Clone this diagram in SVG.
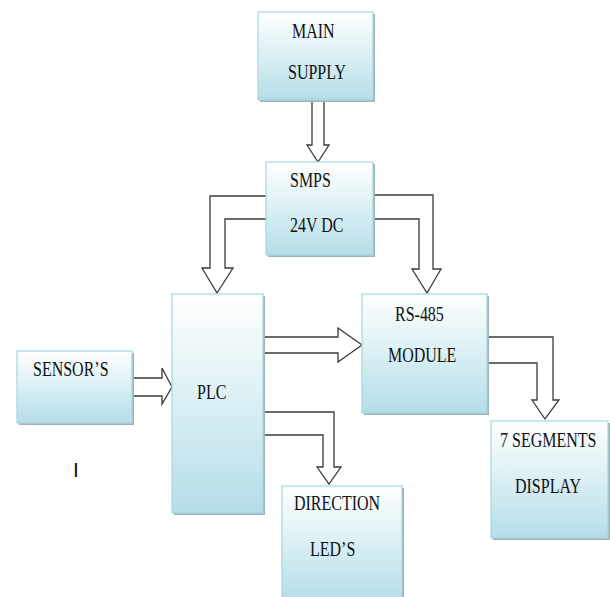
<svg xmlns="http://www.w3.org/2000/svg" width="610" height="597" viewBox="0 0 610 597">
<defs>
<linearGradient id="g" x1="0" y1="0" x2="0" y2="1">
<stop offset="0" stop-color="#ffffff"/>
<stop offset="0.55" stop-color="#d6eef3"/>
<stop offset="1" stop-color="#b5dde7"/>
</linearGradient>
<style>
.box{fill:url(#g);stroke:#a6d6e2;stroke-width:1.2}
.sh{fill:#9fb3b8}
.ar{fill:#ffffff;stroke:#3a3a3a;stroke-width:1.3;stroke-linejoin:miter}
text{font-family:"Liberation Serif","Times New Roman",serif;font-size:16px;fill:#111}
</style>
</defs>
<rect width="610" height="597" fill="#ffffff"/>
<g id="connectors">
<path class="ar" d="M312,101 L324,101 L324,145 L329,145 L318,162 L307,145 L312,145 Z"/>
<path class="ar" d="M266,196 L210,196 L210,268 L202,268 L217,293 L233,268 L225,268 L225,219 L266,219"/>
<path class="ar" d="M373,195 L433,195 L433,269 L441,269 L427,293 L412,269 L419,269 L419,219 L373,219"/>
<path class="ar" d="M132,378 L162,378 L162,368 L172,387 L162,404 L162,396 L132,396"/>
<path class="ar" d="M263,337 L338,337 L338,328 L362,345 L338,362 L338,353 L263,353 Z"/>
<path class="ar" d="M263,412 L334,412 L334,467 L341,467 L329,484 L317,467 L323,467 L323,435 L263,435"/>
<path class="ar" d="M487,337 L553,337 L553,400 L559,400 L545,419 L532,400 L537,400 L537,363 L487,363"/>
</g>
<g id="main-supply">
<rect class="sh" x="260" y="14" width="115" height="88"/>
<rect class="box" x="258" y="12" width="115" height="88"/>
<text transform="translate(292,38) scale(1,1.33)">MAIN</text>
<text transform="translate(288,79) scale(1,1.33)">SUPPLY</text>
</g>
<g id="smps">
<rect class="sh" x="268" y="164" width="107" height="93"/>
<rect class="box" x="266" y="162" width="107" height="93"/>
<text transform="translate(290,187) scale(1,1.33)">SMPS</text>
<text transform="translate(290,232) scale(1,1.33)">24V DC</text>
</g>
<g id="plc">
<rect class="sh" x="174" y="296" width="91" height="219"/>
<rect class="box" x="172" y="294" width="91" height="219"/>
<text transform="translate(197,399) scale(1,1.33)">PLC</text>
</g>
<g id="sensors">
<rect class="sh" x="19" y="353" width="115" height="72"/>
<rect class="box" x="17" y="351" width="115" height="72"/>
<text transform="translate(33,376) scale(1,1.33)">SENSOR’S</text>
</g>
<g id="rs485">
<rect class="sh" x="364" y="296" width="125" height="119"/>
<rect class="box" x="362" y="294" width="125" height="119"/>
<text transform="translate(395,321) scale(1,1.33)">RS-485</text>
<text transform="translate(388,362) scale(1,1.33)">MODULE</text>
</g>
<g id="seven-seg">
<rect class="sh" x="493" y="423" width="117" height="117"/>
<rect class="box" x="491" y="421" width="117" height="117"/>
<text transform="translate(500,447) scale(1,1.33)">7 SEGMENTS</text>
<text transform="translate(515,493) scale(1,1.33)">DISPLAY</text>
</g>
<g id="direction-leds">
<rect class="sh" x="284" y="488" width="120" height="115"/>
<rect class="box" x="282" y="486" width="120" height="115"/>
<text transform="translate(294,510) scale(1,1.33)">DIRECTION</text>
<text transform="translate(310,556) scale(1,1.33)">LED’S</text>
</g>
<text x="73" y="477" style="font-family:'Liberation Sans',Arial,sans-serif;font-size:21px">I</text>
</svg>
